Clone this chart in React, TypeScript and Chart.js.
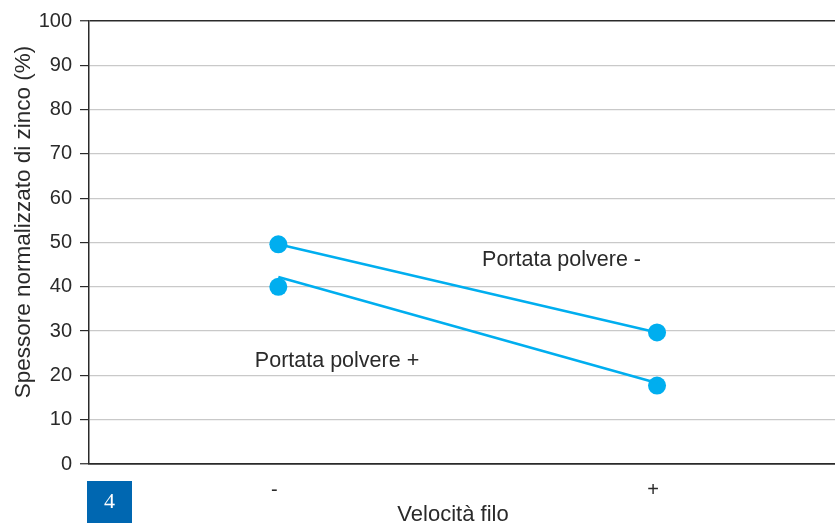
import React, { useEffect, useRef } from "react";
import { Chart, registerables } from "chart.js";

Chart.register(...registerables);

// Data
const categories = ["-", "+"];
const portataMenoLine = [49.6, 29.7];
const portataPiuLine = [42.2, 18.3];
const portataPiuPoints = [40.0, 17.7];
const yTicks = [0, 10, 20, 30, 40, 50, 60, 70, 80, 90, 100];
const annotationTexts = ["Portata polvere -", "Portata polvere +"];
const yTitle = "Spessore normalizzato di zinco (%)";
const xTitle = "Velocità filo";
const badgeText = "4";

const BLUE = "#00AEEF";
const DARK = "#2a2a2a";
const GRID = "#c9c9c9";
const FONT = "'Liberation Sans', Arial, Helvetica, sans-serif";

const annotationPos = [
  { x: 0.538, y: 44.7 },
  { x: -0.062, y: 21.9 },
];

const overlayPlugin = {
  id: "overlay",
  afterDraw(chart: any) {
    const { ctx, scales } = chart;
    const xs = scales.x;
    const ys = scales.y;
    ctx.save();
    ctx.fillStyle = DARK;
    ctx.font = `21.5px ${FONT}`;
    ctx.textBaseline = "alphabetic";
    ctx.textAlign = "left";
    annotationTexts.forEach((t, i) => {
      const p = annotationPos[i];
      ctx.fillText(t, xs.getPixelForValue(p.x), ys.getPixelForValue(p.y));
    });
    // x title
    ctx.font = `22px ${FONT}`;
    ctx.textAlign = "center";
    ctx.fillText(xTitle, 453, 521);
    // y title
    ctx.save();
    ctx.translate(30, 222);
    ctx.rotate(-Math.PI / 2);
    ctx.font = `22.5px ${FONT}`;
    ctx.textAlign = "center";
    ctx.textBaseline = "alphabetic";
    ctx.fillText(yTitle, 0, 0);
    ctx.restore();
    // badge
    ctx.fillStyle = "#0067B1";
    ctx.fillRect(87, 481, 45, 42);
    ctx.fillStyle = "#ffffff";
    ctx.font = `22px 'Liberation Serif', 'DejaVu Serif', serif`;
    ctx.textAlign = "center";
    ctx.textBaseline = "middle";
    ctx.fillText(badgeText, 109.5, 502);
    ctx.restore();
  },
};

export default function App() {
  const ref = useRef<HTMLCanvasElement>(null);
  useEffect(() => {
    if (!ref.current) return;
    const chart = new Chart(ref.current, {
      type: "line",
      data: {
        datasets: [
          {
            label: "Portata polvere -",
            data: portataMenoLine.map((v, i) => ({ x: i, y: v })),
            borderColor: BLUE,
            backgroundColor: BLUE,
            borderWidth: 2.5,
            pointRadius: 9,
            pointBorderWidth: 0,
            pointBackgroundColor: BLUE,
            fill: false,
          },
          {
            label: "Portata polvere + (linea)",
            data: portataPiuLine.map((v, i) => ({ x: i, y: v })),
            borderColor: BLUE,
            borderWidth: 2.5,
            pointRadius: 0,
            fill: false,
          },
          {
            label: "Portata polvere +",
            data: portataPiuPoints.map((v, i) => ({ x: i, y: v })),
            showLine: false,
            borderColor: BLUE,
            backgroundColor: BLUE,
            pointRadius: 9,
            pointBorderWidth: 0,
            pointBackgroundColor: BLUE,
          },
        ],
      },
      options: {
        animation: false,
        responsive: true,
        maintainAspectRatio: false,
        layout: { autoPadding: false, padding: { top: 21, right: 0, bottom: 0, left: 0 } },
        plugins: { legend: { display: false }, tooltip: { enabled: false } },
        scales: {
          x: {
            type: "linear",
            min: -0.5,
            max: 1.47,
            afterBuildTicks: (axis: any) => {
              axis.ticks = categories.map((_, i) => ({ value: i }));
            },
            afterFit: (axis: any) => {
              axis.height = 59;
              axis.paddingRight = 0;
              axis.paddingLeft = 0;
            },
            grid: { display: false, drawTicks: false },
            border: { display: true, color: DARK, width: 1.5 },
            ticks: {
              autoSkip: false,
              maxRotation: 0,
              padding: 14,
              labelOffset: -4,
              color: DARK,
              font: { family: FONT, size: 20 },
              callback: (v: any) => categories[Number(v)] ?? "",
            },
          },
          y: {
            type: "linear",
            min: 0,
            max: 100,
            afterBuildTicks: (axis: any) => {
              axis.ticks = yTicks.map((v) => ({ value: v }));
            },
            afterFit: (axis: any) => {
              axis.width = 89;
            },
            grid: {
              color: (c: any) =>
                c.tick && (c.tick.value === 100 || c.tick.value === 0) ? DARK : GRID,
              lineWidth: (c: any) =>
                c.tick && (c.tick.value === 100 || c.tick.value === 0) ? 1.5 : 1.2,
              tickColor: DARK,
              tickLength: 9,
              tickWidth: 1.2,
            },
            border: { display: true, color: DARK, width: 1.5 },
            ticks: {
              padding: 8,
              color: DARK,
              font: { family: FONT, size: 20 },
            },
          },
        },
      },
      plugins: [overlayPlugin],
    });
    return () => chart.destroy();
  }, []);
  return (
    <div style={{ position: "absolute", left: 0, top: 0, width: 835, height: 523 }}>
      <canvas ref={ref} />
    </div>
  );
}
